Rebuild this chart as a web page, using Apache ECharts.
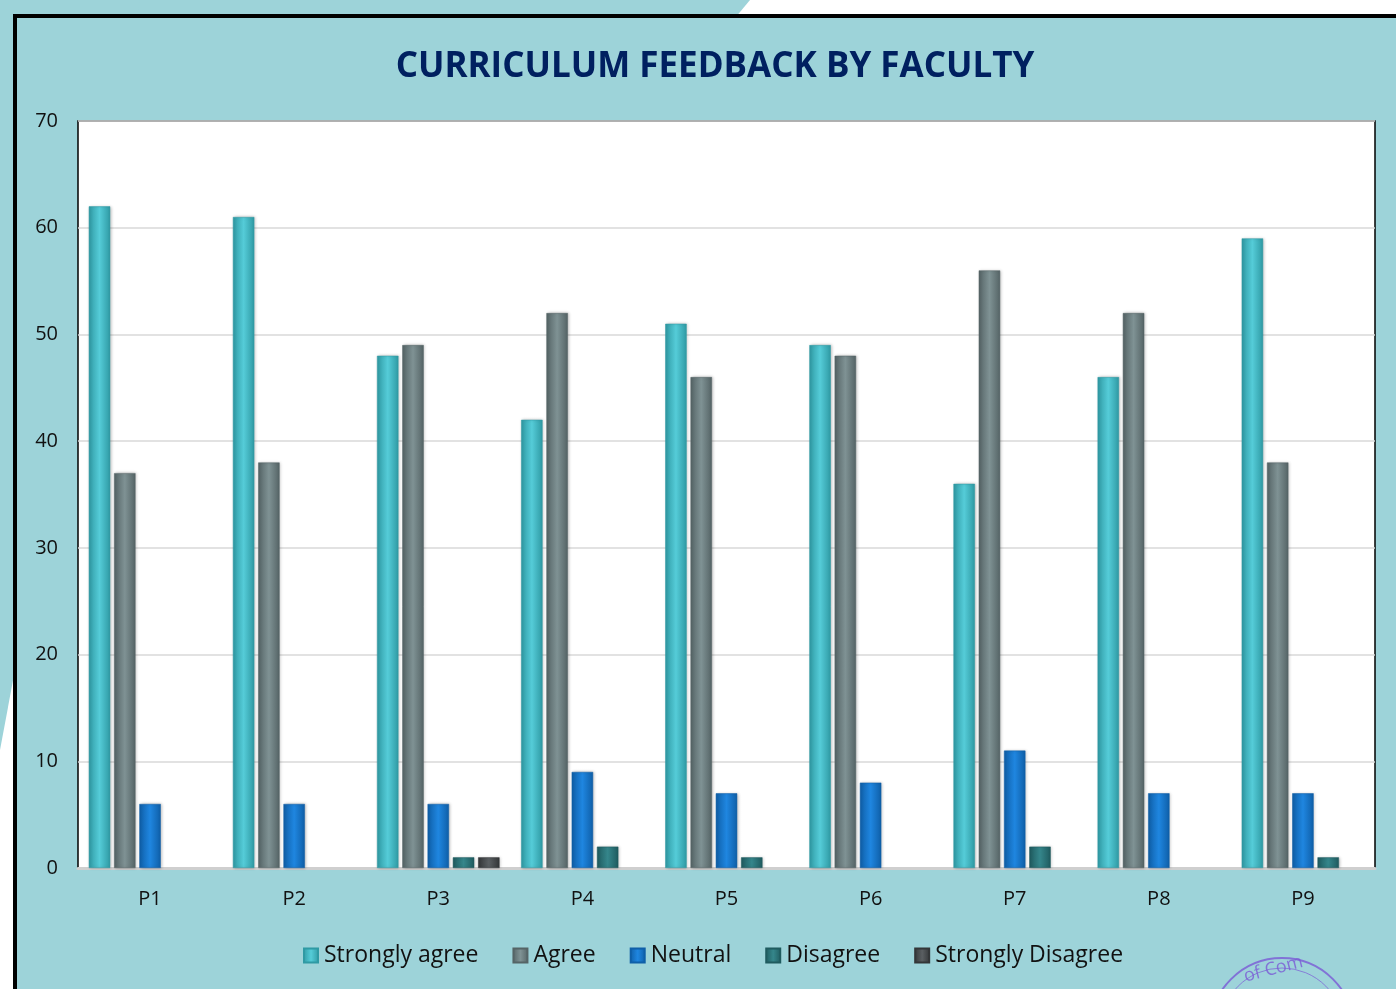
<!DOCTYPE html>
<html>
<head>
<meta charset="utf-8">
<script src="https://cdn.jsdelivr.net/npm/echarts@6/dist/echarts.min.js"></script>
<style>
  html, body { margin: 0; padding: 0; background: #ffffff; }
  #chart { width: 1396px; height: 989px; }
</style>
</head>
<body>
<div id="chart"></div>
<script>
// data
var categories = ['P1', 'P2', 'P3', 'P4', 'P5', 'P6', 'P7', 'P8', 'P9'];
var stronglyAgree    = [62, 61, 48, 42, 51, 49, 36, 46, 59];
var agree            = [37, 38, 49, 52, 46, 48, 56, 52, 38];
var neutral          = [6, 6, 6, 9, 7, 8, 11, 7, 7];
var disagree         = [0, 0, 1, 2, 1, 0, 2, 0, 1];
var stronglyDisagree = [0, 0, 1, 0, 0, 0, 0, 0, 0];
var yTicks = [0, 10, 20, 30, 40, 50, 60, 70];

var FONT = '"Open Sans", "Noto Sans", sans-serif';

// bevel-ish look: darker edges, light middle
function bevel(edge, mid) {
  return new echarts.graphic.LinearGradient(0, 0, 1, 0, [
    { offset: 0, color: edge },
    { offset: 0.5, color: mid },
    { offset: 1, color: edge }
  ]);
}

function barSeries(name, data, edge, mid) {
  return {
    name: name,
    type: 'bar',
    data: data.map(function (v) { return v === 0 ? null : v; }),
    itemStyle: {
      color: bevel(edge, mid), borderColor: edge, borderWidth: 0.5,
      shadowColor: 'rgba(0,0,0,0.25)', shadowBlur: 3, shadowOffsetX: 1
    },
    barGap: '18%',
    barCategoryGap: '15%'
  };
}

var chart = echarts.init(document.getElementById('chart'));

var option = {
  animation: false,
  backgroundColor: '#ffffff',
  graphic: [
    // light blue decoration behind the frame
    { type: 'polygon', z: -10, shape: { points: [[140, 0], [750, 0], [700, 60], [0, 60], [0, 0]] }, style: { fill: '#9dd3d9' } },
    { type: 'polygon', z: -10, shape: { points: [[0, 0], [140, 0], [0, 750]] }, style: { fill: '#9dd3d9' } },
    // frame panel
    { type: 'rect', z: -9, shape: { x: 15, y: 16, width: 1400, height: 1000 }, style: { fill: '#9dd3d9', stroke: '#000000', lineWidth: 4 } },
    // stamp
    { type: 'circle', z: -8, shape: { cx: 1282, cy: 1030, r: 72 }, style: { fill: 'none', stroke: '#7b5ad6', lineWidth: 2, opacity: 0.8 } },
    { type: 'circle', z: -8, shape: { cx: 1282, cy: 1030, r: 62 }, style: { fill: 'none', stroke: '#7b5ad6', lineWidth: 1, opacity: 0.7 } },
    { type: 'text', z: -8, x: 1242, y: 968, rotation: 0.25, style: { text: 'of Com', fill: '#7b5ad6', font: '18px ' + FONT, opacity: 0.8 } }
  ],
  title: {
    text: 'CURRICULUM FEEDBACK BY FACULTY',
    left: 710,
    textAlign: 'center',
    top: 45,
    textStyle: { color: '#002060', fontSize: 35, fontWeight: 'bold', fontFamily: FONT }
  },
  legend: {
    bottom: 17,
    left: 298,
    itemWidth: 14,
    itemHeight: 14,
    itemGap: 34,
    icon: 'rect',
    textStyle: { color: '#111111', fontSize: 23, fontFamily: FONT, padding: [0, 0, 0, 1] }
  },
  grid: {
    left: 78,
    right: 21,
    top: 121,
    bottom: 121,
    show: true,
    backgroundColor: '#ffffff',
    borderColor: '#000000',
    borderWidth: 1.5
  },
  xAxis: {
    type: 'category',
    data: categories,
    axisTick: { show: false },
    axisLine: { lineStyle: { color: '#cfcfcf', width: 3 } },
    axisLabel: { color: '#111111', fontSize: 20, fontFamily: FONT, margin: 21 }
  },
  yAxis: {
    type: 'value',
    min: yTicks[0],
    max: yTicks[yTicks.length - 1],
    interval: 10,
    axisLine: { show: false },
    axisTick: { show: false },
    splitLine: { lineStyle: { color: '#d9d9d9', width: 1.5 } },
    axisLabel: { color: '#111111', fontSize: 20, fontFamily: FONT, margin: 20 }
  },
  series: [
    barSeries('Strongly agree', stronglyAgree, '#2f9aa4', '#55ccd8'),
    barSeries('Agree', agree, '#556466', '#7f9294'),
    barSeries('Neutral', neutral, '#0f5fa8', '#1f86e0'),
    barSeries('Disagree', disagree, '#1f5b5f', '#35868b'),
    barSeries('Strongly Disagree', stronglyDisagree, '#333638', '#5a5f62')
  ]
};

chart.setOption(option);
</script>
</body>
</html>
